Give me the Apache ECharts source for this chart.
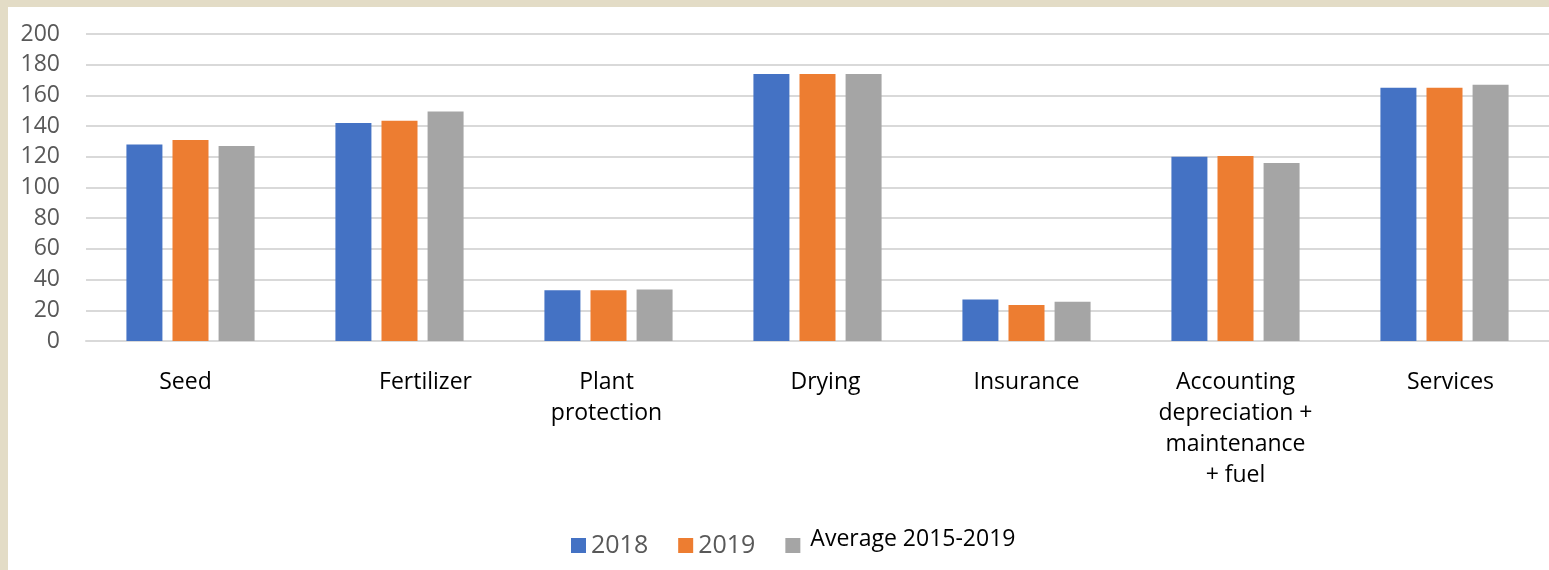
<!DOCTYPE html>
<html>
<head>
<meta charset="utf-8">
<script src="https://cdn.jsdelivr.net/npm/echarts@6/dist/echarts.min.js"></script>
<style>
html,body{margin:0;padding:0;background:#e3dcc6;width:1549px;height:570px;overflow:hidden;}
#c{position:absolute;left:8px;top:7px;width:1541px;height:563px;background:#fff;}
</style>
</head>
<body>
<div id="c"></div>
<script>
const categories = ['Seed','Fertilizer','Plant\nprotection','Drying','Insurance','Accounting\ndepreciation +\nmaintenance\n+ fuel','Services'];
const seriesNames = ['2018','2019','Average 2015-2019'];
const values2018 = [128, 142, 33, 174, 27, 120, 165];
const values2019 = [131, 143.5, 33, 174, 23.5, 120.5, 165];
const valuesAvg = [127, 149.5, 33.5, 174, 25.5, 116, 167];
const yTicks = [0,20,40,60,80,100,120,140,160,180,200];
const labelShift = [-10, 52, -4, 16, 0, 0, 12];

const colors = ['#4472c4','#ed7d31','#a5a5a5'];
const chart = echarts.init(document.getElementById('c'));
const font = '"Open Sans", "Noto Sans", sans-serif';
chart.setOption({
  backgroundColor:'#fff',
  animation:false,
  color: colors,
  grid:{left:78, right:0, top:27, bottom:229, containLabel:false},
  legend:{
    left:558, top:516,
    itemWidth:15, itemHeight:15, itemGap:30,
    icon:'rect',
    formatter: name => name === seriesNames[2] ? '{a|' + name + '}' : name,
    textStyle:{fontFamily:font, fontSize:25, color:'#595959',
      rich:{a:{fontFamily:font, fontSize:23, color:'#000', padding:[0,0,12,5]}}},
    data: seriesNames
  },
  xAxis:{
    type:'category',
    data: categories.map((c,i)=>({value:c, textStyle:{padding: labelShift[i]>=0 ? [0,0,0,labelShift[i]] : [0,-labelShift[i],0,0]}})),
    axisLine:{lineStyle:{color:'#d9d9d9', width:2}},
    axisTick:{show:false},
    axisLabel:{fontFamily:font, fontSize:23, color:'#000', lineHeight:31, margin:26, interval:0}
  },
  yAxis:{
    type:'value', min:yTicks[0], max:yTicks[yTicks.length-1], interval:20,
    axisLine:{show:false}, axisTick:{show:false},
    splitLine:{lineStyle:{color:'#d9d9d9', width:2}},
    axisLabel:{fontFamily:font, fontSize:23, color:'#595959', margin:26}
  },
  series:[
    {name:seriesNames[0], type:'bar', data:values2018, barWidth:36, barGap:'28%'},
    {name:seriesNames[1], type:'bar', data:values2019, barWidth:36, barGap:'28%'},
    {name:seriesNames[2], type:'bar', data:valuesAvg, barWidth:36, barGap:'28%'}
  ]
});
</script>
</body>
</html>
